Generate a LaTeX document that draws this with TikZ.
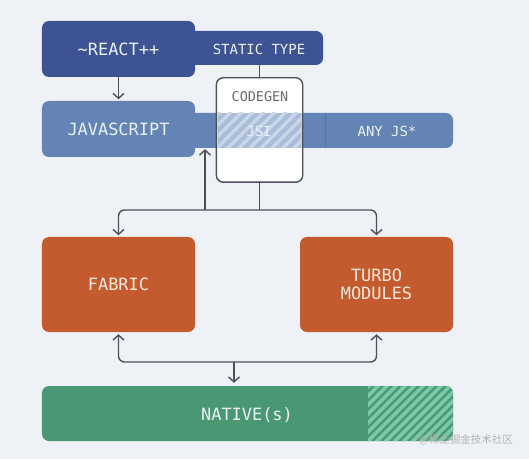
\documentclass[tikz,border=0pt]{standalone}
\usepackage{fontspec}
\setmonofont{DejaVu Sans Mono}
\newfontfamily\cjk{Noto Sans CJK SC}
\usetikzlibrary{arrows.meta}
\definecolor{bgc}{HTML}{EEF2F6}
\definecolor{reactc}{HTML}{3E5394}
\definecolor{jsc}{HTML}{6384B4}
\definecolor{orangec}{HTML}{C35B2F}
\definecolor{greenc}{HTML}{4A9873}
\definecolor{stripec}{HTML}{7DC8A4}
\definecolor{linec}{HTML}{4B5157}
\definecolor{bandc}{HTML}{A9BCD8}
\definecolor{bandstripe}{HTML}{C9D6E8}
\definecolor{txtc}{HTML}{EAF0F7}
\definecolor{creamc}{HTML}{F6E7D8}
\tikzset{
  box/.style={rounded corners=7bp, inner sep=0pt},
  bigtxt/.style={font=\ttfamily\fontsize{17}{19}\selectfont, text=txtc},
  smalltxt/.style={font=\ttfamily\fontsize{14}{16}\selectfont, text=txtc},
  conn/.style={draw=linec, line width=1.4bp, rounded corners=6bp},
  arr/.style={conn, -{Straight Barb[length=5bp,width=11bp,line width=1.4bp]}},
}
\begin{document}
\begin{tikzpicture}[x=1bp,y=-1bp]
\fill[bgc] (0,0) rectangle (529,459);
\useasboundingbox (0,0) rectangle (529,459);

% top row
\node[box, fill=reactc, minimum width=143bp, minimum height=34bp] (static) at (251.5,48) {};
\node[box, fill=reactc, minimum width=153bp, minimum height=56bp, bigtxt] (react) at (118.5,49) {\textasciitilde REACT++};
\node[smalltxt] (statictxt) at (259,49) {STATIC TYPE};

% javascript row
\node[box, fill=jsc, minimum width=273bp, minimum height=35bp] (jsbar) at (316.5,130.5) {};
\draw[jsc!80!black, line width=0.8bp, opacity=0.5] (325,113) -- (325,148);
\node[box, fill=jsc, minimum width=153bp, minimum height=56bp, bigtxt] (js) at (118.5,129) {JAVASCRIPT};

% codegen
\node[rounded corners=7bp, fill=white, minimum width=86bp, minimum height=104bp, inner sep=0pt] (codegen) at (259.5,130) {};
\begin{scope}
  \clip (217.5,113) rectangle (301.5,148);
  \fill[bandc] (216,113) rectangle (303,148);
  \foreach \k in {0,...,12}{
    \draw[bandstripe, line width=3.5bp] ({180+\k*11},152) -- ++(40,-40);
  }
\end{scope}
\draw[linec, line width=1.4bp, rounded corners=7bp] (codegen.north west) rectangle (codegen.south east);
\node[font=\ttfamily\fontsize{13.5}{16}\selectfont, text=linec!85!white] (codegentxt) at (260,97) {CODEGEN};
\node[smalltxt] (jsitxt) at (259,131) {JSI};
\node[smalltxt] (anyjs) at (387,131) {ANY JS*};

% middle row
\node[box, fill=orangec, minimum width=153bp, minimum height=95bp, bigtxt, text=creamc] (fabric) at (118.5,284.5) {FABRIC};
\node[box, fill=orangec, minimum width=153bp, minimum height=95bp, bigtxt, text=creamc, align=center] (turbo) at (376.5,284.5) {TURBO\\[-1bp]MODULES};

% native
\node[box, fill=greenc, minimum width=411bp, minimum height=55bp] (native) at (247.5,413.5) {};
\begin{scope}
  \clip[rounded corners=7bp] (native.north west) rectangle (native.south east);
  \clip (368,380) rectangle (460,450);
  \foreach \k in {0,...,17}{
    \draw[stripec, line width=3.8bp] ({300+\k*9},446) -- ++(65,-65);
  }
\end{scope}
\node[bigtxt] (nativetxt) at (247,415) {NATIVE(s)};

% connectors
\draw[arr, shorten >=1.5bp] (react) -- (js);
\draw[conn] (codegen.north |- static.south) -- (codegen.north);
\coordinate (j1) at (259.5,210);
\coordinate (jsin) at (205,210);
\draw[conn] (codegen.south) -- (j1);
\draw[arr, shorten >=1.5bp] (j1) -| (fabric.north);
\draw[arr, shorten >=1.5bp] (j1) -| (turbo.north);
\draw[arr, shorten >=1bp] (jsin) -- (jsin |- jsbar.south);
\coordinate (j2) at (234,362);
\draw[arr, shorten >=2bp] (j2) -| (fabric.south);
\draw[arr, shorten >=2bp] (j2) -| (turbo.south);
\draw[arr, shorten >=3bp] (j2) -- (j2 |- native.north);

% watermark
\node[font=\cjk\fontsize{10.5}{12}\selectfont, text=black!30] (wm) at (466,440) {@稀土掘金技术社区};
\end{tikzpicture}
\end{document}
